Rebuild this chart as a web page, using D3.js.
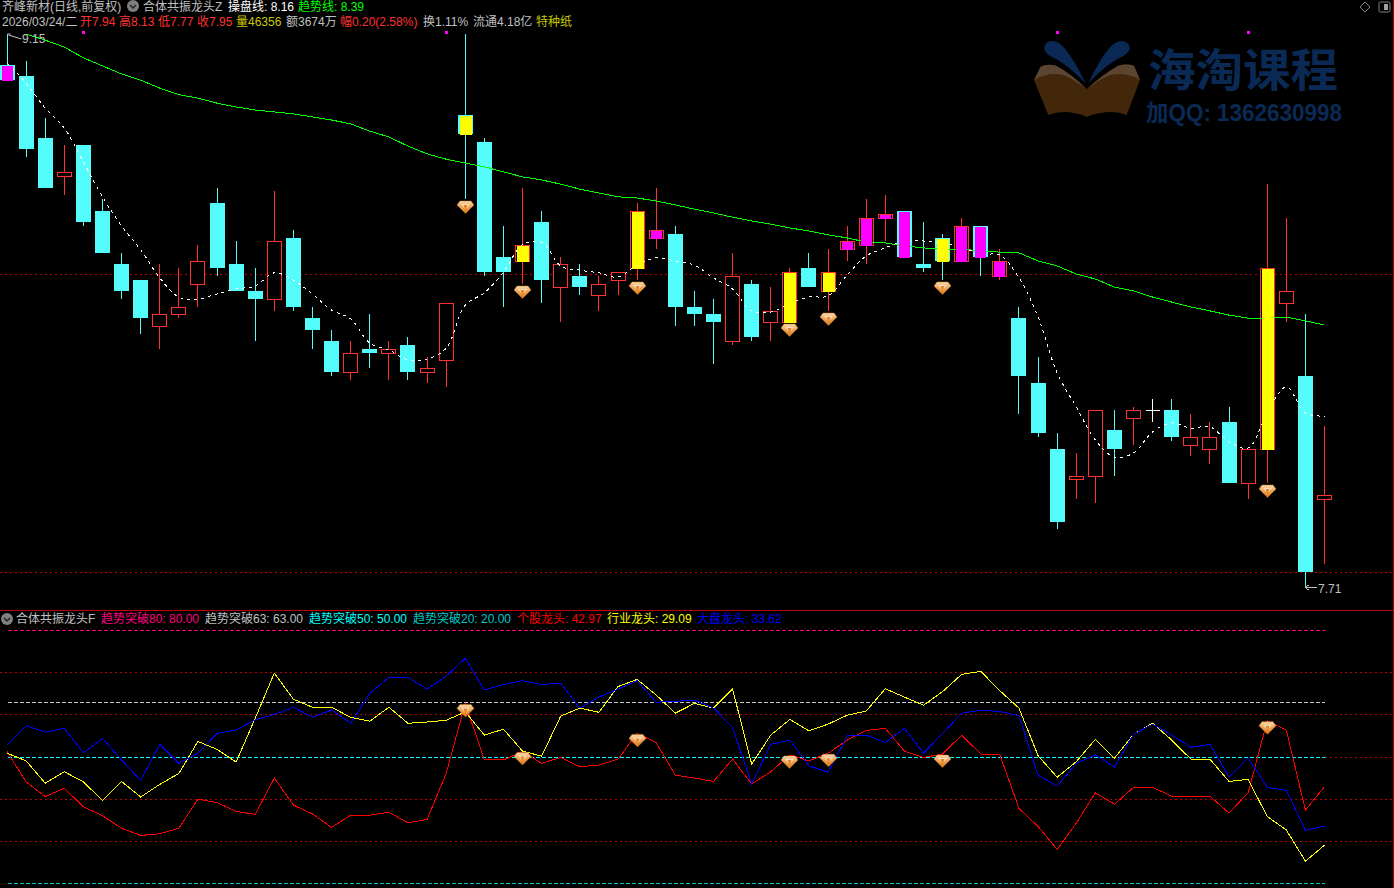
<!DOCTYPE html>
<html><head><meta charset="utf-8">
<style>html,body{margin:0;padding:0;background:#000;overflow:hidden}svg{display:block}text{font-family:"Liberation Sans","Noto Sans CJK SC",sans-serif;font-size:12px}</style>
<script src="https://cdn.jsdelivr.net/npm/d3@7"></script></head><body><script>
const opens=[9.07,9.04,8.88,8.78,8.86,8.69,8.55,8.51,8.39,8.42,8.50,8.71,8.55,8.48,8.46,8.62,8.41,8.35,8.27,8.33,8.32,8.34,8.27,8.30,8.94,8.87,8.57,8.56,8.66,8.49,8.52,8.47,8.51,8.54,8.62,8.63,8.44,8.42,8.35,8.50,8.40,8.40,8.54,8.48,8.59,8.60,8.67,8.69,8.55,8.62,8.56,8.65,8.52,8.41,8.24,8.07,7.99,8.00,8.12,8.15,8.17,8.17,8.08,8.07,8.14,7.98,8.07,8.45,8.26,7.94];
const closes=[9.03,8.85,8.75,8.79,8.66,8.58,8.48,8.41,8.42,8.44,8.56,8.54,8.48,8.46,8.61,8.44,8.38,8.27,8.32,8.32,8.33,8.27,8.28,8.45,8.89,8.53,8.53,8.60,8.51,8.55,8.49,8.50,8.53,8.69,8.64,8.44,8.42,8.40,8.52,8.36,8.43,8.53,8.49,8.53,8.61,8.67,8.68,8.57,8.54,8.56,8.65,8.57,8.56,8.26,8.11,7.88,8.00,8.17,8.07,8.17,8.17,8.10,8.10,8.10,7.98,8.07,8.54,8.48,7.75,7.95];
const highs=[9.15,9.08,8.93,8.86,8.86,8.72,8.58,8.51,8.55,8.54,8.60,8.75,8.61,8.54,8.74,8.64,8.44,8.38,8.35,8.42,8.35,8.36,8.31,8.45,9.15,8.88,8.65,8.75,8.69,8.57,8.55,8.52,8.53,8.71,8.75,8.65,8.48,8.46,8.58,8.51,8.49,8.54,8.58,8.59,8.65,8.72,8.73,8.69,8.66,8.63,8.67,8.65,8.59,8.44,8.31,8.11,8.06,8.17,8.17,8.18,8.20,8.20,8.16,8.14,8.18,8.07,8.76,8.67,8.42,8.13];
const lows=[9.03,8.83,8.75,8.73,8.65,8.58,8.46,8.37,8.33,8.41,8.44,8.52,8.48,8.35,8.43,8.43,8.33,8.26,8.25,8.28,8.25,8.25,8.24,8.23,8.72,8.52,8.44,8.50,8.45,8.40,8.47,8.43,8.47,8.51,8.59,8.39,8.39,8.29,8.34,8.35,8.35,8.40,8.49,8.43,8.56,8.55,8.61,8.57,8.53,8.51,8.56,8.52,8.51,8.16,8.10,7.86,7.94,7.93,8.00,8.08,8.14,8.09,8.05,8.03,7.98,7.94,7.98,8.40,7.71,7.77];
const trendLine=[null,9.150,9.134,9.116,9.088,9.067,9.046,9.030,9.009,8.992,8.983,8.970,8.960,8.952,8.947,8.942,8.934,8.926,8.916,8.897,8.882,8.858,8.838,8.824,8.814,8.804,8.791,8.778,8.770,8.759,8.746,8.736,8.726,8.723,8.715,8.705,8.694,8.684,8.673,8.663,8.655,8.645,8.637,8.627,8.619,8.608,8.606,8.598,8.593,8.590,8.590,8.585,8.582,8.580,8.559,8.546,8.525,8.512,8.491,8.481,8.465,8.452,8.439,8.429,8.418,8.410,8.410,8.413,8.403,8.392];
const tradeLine=[9.075,9.022,8.957,8.905,8.817,8.726,8.650,8.588,8.515,8.465,8.460,8.473,8.486,8.494,8.528,8.509,8.473,8.431,8.408,8.345,8.327,8.301,8.304,8.332,8.444,8.476,8.530,8.601,8.608,8.546,8.535,8.528,8.517,8.548,8.567,8.559,8.548,8.515,8.486,8.429,8.426,8.449,8.465,8.468,8.522,8.572,8.593,8.611,8.611,8.606,8.595,8.577,8.574,8.515,8.413,8.267,8.179,8.093,8.048,8.059,8.114,8.137,8.124,8.127,8.088,8.072,8.163,8.231,8.163,8.155];
const stockDragon=[51.3,44.1,40.6,42.6,38.2,36.1,33.1,31.4,31.8,33.1,40.0,39.2,37.1,36.4,45.0,38.6,36.5,33.3,36.2,36.2,36.9,34.4,35.2,46.1,62.7,49.3,49.3,51.3,48.5,49.9,47.7,48.1,49.5,55.6,53.4,45.7,45.0,44.2,49.5,43.6,46.5,50.5,49.1,50.9,54.0,56.3,56.8,51.4,49.9,50.7,55.2,50.7,50.5,37.8,33.5,28.1,34.3,41.5,38.8,42.8,42.8,40.7,40.7,40.7,36.7,41.5,58.6,56.4,37.4,42.97];
const industryDragon=[50.9,49.1,43.8,46.5,44.1,39.7,44.2,40.5,43.5,46.1,53.7,51.8,48.8,59.2,69.9,63.7,61.8,61.8,59.4,58.5,61.8,58.0,58.3,58.7,60.7,55.2,56.6,51.4,50.2,59.7,61.6,60.6,66.7,68.4,64.7,60.4,62.7,61.6,66.1,48.3,55.2,58.9,56.2,57.8,59.9,60.9,66.2,64.2,62.3,65.5,69.6,70.3,65.7,61.6,50.3,45.2,48.9,54.2,49.7,55.4,58.0,54.0,49.5,49.5,44.2,44.7,35.9,32.7,25.3,29.09];
const marketDragon=[52.9,57.4,55.9,56.8,51.0,54.4,49.3,44.4,53.0,48.5,50.9,55.6,56.4,58.8,60.1,61.8,59.4,61.2,58.0,65.1,68.9,68.9,66.1,69.2,73.4,65.9,67.2,68.1,67.2,67.5,61.6,64.2,66.1,68.1,63.0,63.2,63.5,61.6,57.0,43.6,53.0,54.0,47.9,46.4,55.0,55.2,53.4,56.8,50.9,55.6,60.4,61.1,60.8,59.8,45.7,43.1,48.5,50.5,47.6,55.4,57.8,55.2,52.3,53.0,45.3,49.8,42.8,42.1,32.6,33.62];
const magentaBars=[0,34,44,45,46,47,50,51,52];
const yellowBars=[24,27,33,41,43,49,66];
const signalBars=[24,27,33,41,43,49,66];
const topDots=[4,23,55,65];
const priceGuides=[8.524,7.748];
const indicatorGrid=[70,60,50,40,30];
const indicatorLevels=[80,63,50,20];
const levelColors=["#ff0080","#c8c8c8","#00ffff","#00c8c8"];
const titleTexts=["齐峰新材(日线,前复权)","合体共振龙头Z","操盘线: 8.16","趋势线: 8.39"];
const quoteTexts=["2026/03/24/二","开7.94","高8.13","低7.77","收7.95","量46356","额3674万","幅0.20(2.58%)","换1.11%","流通4.18亿","特种纸"];
const legendTexts=["合体共振龙头F","趋势突破80: 80.00","趋势突破63: 63.00","趋势突破50: 50.00","趋势突破20: 20.00","个股龙头: 42.97","行业龙头: 29.09","大盘龙头: 33.62"];

const W=1394,H=888;
const svg=d3.select("body").append("svg").attr("width",W).attr("height",H).style("background","#000");
const defs=svg.append("defs");
const gr=defs.append("linearGradient").attr("id","gem").attr("x1",0).attr("y1",0).attr("x2",0).attr("y2",1);
gr.append("stop").attr("offset","0%").attr("stop-color","#f9dcb0");
gr.append("stop").attr("offset","45%").attr("stop-color","#f0a456");
gr.append("stop").attr("offset","100%").attr("stop-color","#d97718");
const x=d3.scaleLinear().domain([0,opens.length-1]).range([7,1324.5]);
const cx=i=>Math.floor(x(i))+.5;
const y=d3.scaleLinear().domain([9.15,7.71]).range([34,587]);
const yi=d3.scaleLinear().domain([80,20]).range([630.5,883.5]);
const px=v=>Math.round(y(v));
const crisp="crispEdges";
const RED="#ff3232",CYAN="#54fcfc";

// watermark
const wm=svg.append("g").attr("transform","translate(1020,0) scale(0.3333)");
wm.append("path").attr("d","M42,240 L62,200 Q82,190 108,197 Q160,225 200,268 Q245,225 295,197 Q320,190 342,197 L360,240 L320,345 Q270,325 200,350 Q135,325 85,345 Z").attr("fill","#43270b");
wm.append("path").attr("d","M42,240 L62,200 Q82,190 108,197 Q160,225 200,268 Q245,225 295,197 Q320,190 342,197 L360,240 Q320,215 270,225 Q235,240 200,268 Q165,240 130,225 Q85,215 42,240 Z").attr("fill","#5c4530");
wm.append("path").attr("d","M197,250 Q140,190 85,165 Q66,150 76,133 Q92,115 118,130 Q150,155 197,250 Z M205,250 Q260,190 315,165 Q336,150 326,133 Q310,115 284,130 Q250,155 205,250 Z").attr("fill","#0a2a55");
svg.append("text").text("海淘课程").attr("x",1148).attr("y",87).attr("textLength",190).attr("lengthAdjust","spacingAndGlyphs").attr("fill","#0a2a55").style("font-size","45px").style("font-weight","bold");
svg.append("text").text("加QQ: 1362630998").attr("x",1146).attr("y",121).attr("textLength",196).attr("lengthAdjust","spacingAndGlyphs").attr("fill","#0a2a55").style("font-size","23px").style("font-weight","bold");

// guides
svg.append("g").selectAll("line").data(priceGuides).join("line")
 .attr("x1",0).attr("x2",1392).attr("y1",d=>Math.round(y(d))+.5).attr("y2",d=>Math.round(y(d))+.5)
 .attr("stroke","#c00000").attr("stroke-dasharray","1.5,3.5").attr("shape-rendering",crisp);

// top dots
svg.append("g").selectAll("rect").data(topDots).join("rect")
 .attr("x",i=>cx(i)-1.5).attr("y",31).attr("width",3).attr("height",3).attr("fill","#ff00ff").attr("shape-rendering",crisp);

// candles
const idx=d3.range(opens.length);
const col=i=>closes[i]>opens[i]?RED:closes[i]<opens[i]?CYAN:"#ffffff";
const g=svg.append("g").attr("shape-rendering",crisp);
g.selectAll(".wu").data(idx).join("line").attr("class","wu").attr("x1",cx).attr("x2",cx)
 .attr("y1",i=>px(highs[i])).attr("y2",i=>px(Math.max(opens[i],closes[i]))).attr("stroke",col);
g.selectAll(".wd").data(idx).join("line").attr("class","wd").attr("x1",cx).attr("x2",cx)
 .attr("y1",i=>px(Math.min(opens[i],closes[i]))).attr("y2",i=>px(lows[i])).attr("stroke",col);
g.selectAll(".body").data(idx).join("rect").attr("class","body")
 .each(function(i){
   const t=px(Math.max(opens[i],closes[i])),b=px(Math.min(opens[i],closes[i])),s=d3.select(this);
   if(closes[i]>opens[i]) s.attr("x",cx(i)-7).attr("width",14).attr("y",t+.5).attr("height",Math.max(b-t,1)).attr("fill","#000").attr("stroke",RED);
   else if(closes[i]<opens[i]) s.attr("x",cx(i)-7.5).attr("width",15).attr("y",t).attr("height",b-t).attr("fill",CYAN);
   else s.attr("x",cx(i)-7).attr("width",14).attr("y",t).attr("height",1).attr("fill","#fff");
 });

// lines
const priceLine=d3.line().defined(d=>d!==null).x((d,i)=>x(i)).y(d=>y(d));
svg.append("path").attr("d",priceLine(trendLine)).attr("fill","none").attr("stroke","#00ff00").attr("stroke-width",1).attr("shape-rendering",crisp);
svg.append("path").attr("d",priceLine.curve(d3.curveCatmullRom)(tradeLine)).attr("fill","none").attr("stroke","#fff").attr("stroke-width",1).attr("stroke-dasharray","3,4").attr("shape-rendering",crisp);

// overlay bars
const over=svg.append("g").attr("shape-rendering",crisp);
const overlay=(list,c,w)=>over.append("g").selectAll("rect").data(list).join("rect")
 .attr("x",i=>cx(i)-w/2).attr("width",w).attr("y",i=>px(Math.max(opens[i],closes[i]))+1)
 .attr("height",i=>Math.abs(px(opens[i])-px(closes[i]))).attr("fill",c);
overlay(magentaBars,"#ff00ff",11);overlay(yellowBars,"#ffff00",12);

// diamonds
function gem(sel){
 sel.append("path").attr("d","M-5.5,-6 L5.5,-6 L8.5,-2 L0,6.5 L-8.5,-2 Z").attr("fill","url(#gem)").attr("stroke","#c8761e").attr("stroke-width",.5);
 sel.append("path").attr("d","M-4.5,-3 L4.5,-3 L0,3 Z").attr("fill","#f8e0c0");
 sel.append("path").attr("d","M-2,-2 L2,-2 L0,5.5 Z").attr("fill","#e8882a");
}
svg.append("g").selectAll("g").data(signalBars).join("g").attr("transform",i=>`translate(${cx(i)},${px(lows[i])+8})`).call(gem);

// high/low labels
const hi=d3.max(highs),lo=d3.min(lows);
svg.append("path").attr("d",`M${cx(0)},${y(hi)} L${cx(0)+3},${y(hi)} M${cx(0)+1},${y(hi)+1} L${cx(0)+14},${y(hi)+5}`).attr("stroke","#c0c0c0").attr("fill","none");
svg.append("text").text(hi.toFixed(2)).attr("x",22).attr("y",y(hi)+9).attr("fill","#c0c0c0");
const li=lows.indexOf(lo);
svg.append("path").attr("d",`M${cx(li)},${y(lo)+.5} L${cx(li)+11},${y(lo)+.5} M${cx(li)},${y(lo)+.5} L${cx(li)+3},${y(lo)-2} M${cx(li)},${y(lo)+.5} L${cx(li)+3},${y(lo)+3}`).attr("stroke","#c0c0c0").attr("fill","none").attr("shape-rendering",crisp);
svg.append("text").text(lo.toFixed(2)).attr("x",1318).attr("y",y(lo)+6).attr("fill","#c0c0c0");

// indicator pane
svg.append("line").attr("x1",0).attr("x2",W).attr("y1",610.5).attr("y2",610.5).attr("stroke","#c00000").attr("shape-rendering",crisp);
svg.append("line").attr("x1",1393.5).attr("x2",1393.5).attr("y1",0).attr("y2",H).attr("stroke","#a00000").attr("shape-rendering",crisp);
svg.append("g").selectAll("line").data(indicatorGrid).join("line")
 .attr("x1",0).attr("x2",1392).attr("y1",d=>Math.floor(yi(d))+.5).attr("y2",d=>Math.floor(yi(d))+.5)
 .attr("stroke","#c00000").attr("stroke-dasharray","1.5,3.5").attr("shape-rendering",crisp);
svg.append("g").selectAll(".mask").data(indicatorLevels).join("line").attr("class","mask")
 .attr("x1",0).attr("x2",cx(opens.length-1)).attr("y1",d=>Math.floor(yi(d))+.5).attr("y2",d=>Math.floor(yi(d))+.5)
 .attr("stroke","#000").attr("shape-rendering",crisp);
svg.append("g").selectAll(".level").data(indicatorLevels).join("line").attr("class","level")
 .attr("x1",cx(0)).attr("x2",cx(opens.length-1)).attr("y1",d=>Math.floor(yi(d))+.5).attr("y2",d=>Math.floor(yi(d))+.5)
 .attr("stroke",(d,i)=>levelColors[i]).attr("stroke-dasharray","4,2").attr("shape-rendering",crisp);
const iLine=d3.line().x((d,i)=>x(i)).y(d=>yi(d));
[[stockDragon,"#ff0000"],[industryDragon,"#ffff00"],[marketDragon,"#0000ff"]].forEach(([s,c])=>{
 svg.append("path").attr("d",iLine(s)).attr("fill","none").attr("stroke",c).attr("stroke-width",1).attr("shape-rendering",crisp);
});
svg.append("g").selectAll("g").data(signalBars).join("g").attr("transform",i=>`translate(${cx(i)},${yi(stockDragon[i])+7})`).call(gem);

// header text
const GREY="#c0c0c0";
function put(texts,xs,cols,yy){
 svg.append("g").selectAll("text").data(texts).join("text").text(d=>d).attr("x",(d,i)=>xs[i]).attr("y",yy).attr("fill",(d,i)=>cols[i]);
}
put(titleTexts,[2,143,228,298],[GREY,GREY,"#ffffff","#00ff00"],11);
put(quoteTexts,[2,80,119,158,197,236,286,340,423,473,536],[GREY,"#ff3232","#ff3232","#ff3232","#ff3232","#c8c800",GREY,"#ff3232",GREY,GREY,"#c8c800"],26);
put(legendTexts,[16,101,205,309,413,517,607,697],[GREY,"#ff0080",GREY,"#00ffff","#00c8c8","#ff0000","#ffff00","#0000ff"],623);

// icons
function icon(cxx,cyy){
 svg.append("circle").attr("cx",cxx).attr("cy",cyy).attr("r",6).attr("fill","#808080");
 svg.append("path").attr("d",`M${cxx-3},${cyy-1} L${cxx},${cyy+2} L${cxx+3},${cyy-1}`).attr("fill","none").attr("stroke","#222").attr("stroke-width",1.5);
}
icon(133,6);icon(7,619);
svg.append("path").attr("d","M1365,2 L1370,7 L1365,12 L1360,7 Z").attr("fill","none").attr("stroke","#808080");
svg.append("rect").attr("x",1379).attr("y",2).attr("width",11).attr("height",10).attr("rx",1.5).attr("fill","none").attr("stroke","#808080");
svg.append("rect").attr("x",1384).attr("y",4).attr("width",4).attr("height",6).attr("fill","#a0a0a0");
</script></body></html>
